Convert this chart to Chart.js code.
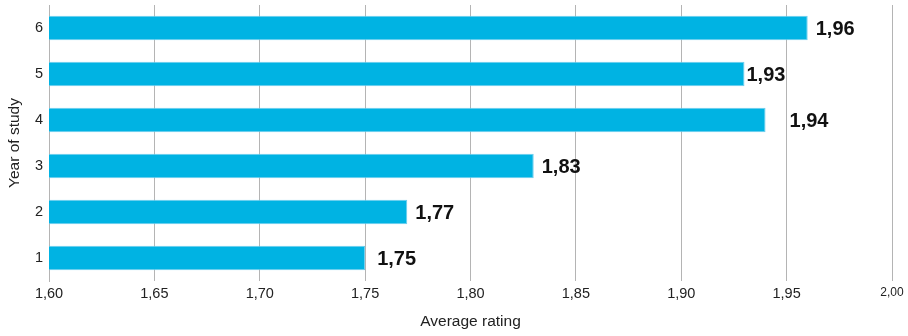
<!DOCTYPE html>
<html>
<head>
<meta charset="utf-8">
<script src="https://cdn.jsdelivr.net/npm/chart.js@4"></script>
<style>
  html, body { margin: 0; padding: 0; background: #ffffff; }
  #wrap { width: 908px; height: 336px; }
</style>
</head>
<body>
<div id="wrap"><canvas id="chart" width="908" height="336"></canvas></div>
<script>
// Average rating by year of study (top row = year 6)
const years = ['6', '5', '4', '3', '2', '1'];
const ratings = [1.96, 1.93, 1.94, 1.83, 1.77, 1.75];
const ratingLabels = ['1,96', '1,93', '1,94', '1,83', '1,77', '1,75'];

const FONT = '"Liberation Sans", Arial, Helvetica, sans-serif';

// Writes each bar's rating just past its end
const valueLabels = {
  id: 'valueLabels',
  afterDatasetsDraw(chart, args, opts) {
    const { ctx } = chart;
    const meta = chart.getDatasetMeta(0);
    ctx.save();
    ctx.font = 'bold 20px ' + FONT;
    ctx.fillStyle = '#111111';
    ctx.textAlign = 'left';
    ctx.textBaseline = 'middle';
    meta.data.forEach((bar, i) => {
      const nudge = (opts.nudge && opts.nudge[i]) || 0;
      ctx.fillText(ratingLabels[i], bar.x + 8 + nudge, bar.y + 1);
    });
    ctx.restore();
  }
};

new Chart(document.getElementById('chart'), {
  type: 'bar',
  data: {
    labels: years,
    datasets: [{
      data: ratings,
      backgroundColor: '#00b3e3',
      borderColor: '#6ccdee',
      borderWidth: 1,
      borderSkipped: false,
      categoryPercentage: 1,
      barPercentage: 0.53
    }]
  },
  options: {
    indexAxis: 'y',
    responsive: false,
    animation: false,
    layout: { padding: { top: 5, right: 16, left: 0, bottom: 0 } },
    plugins: {
      legend: { display: false },
      tooltip: { enabled: false },
      valueLabels: { nudge: [0, -6, 16, 0, 0, 4] }
    },
    scales: {
      x: {
        min: 1.6,
        max: 2.0,
        afterFit(scale) { scale.height = 55; },
        border: { display: false },
        grid: { color: '#b4b4b4', lineWidth: 1, drawTicks: false },
        ticks: {
          stepSize: 0.05,
          padding: 4,
          color: '#222222',
          font: (c) => ({ family: FONT, size: (c.tick && Math.abs(c.tick.value - 2) < 1e-6) ? 12 : 14.5 }),
          callback: (v) => Number(v).toFixed(2).replace('.', ',')
        },
        title: {
          display: true,
          text: 'Average rating',
          color: '#222222',
          font: { family: FONT, size: 15.5 },
          padding: { top: 0, bottom: 5 }
        }
      },
      y: {
        afterFit(scale) {
          scale.width = 49;
          scale.paddingTop = 0;
          scale.paddingBottom = 0;
        },
        border: { display: true, color: '#b4b4b4', width: 1 },
        grid: { display: false, drawTicks: false },
        ticks: {
          padding: 6,
          color: '#222222',
          font: { family: FONT, size: 14.5 }
        },
        title: {
          display: true,
          text: 'Year of study',
          color: '#222222',
          font: { family: FONT, size: 15.5 },
          padding: { top: 5, bottom: 0 }
        }
      }
    }
  },
  plugins: [valueLabels]
});
</script>
</body>
</html>
